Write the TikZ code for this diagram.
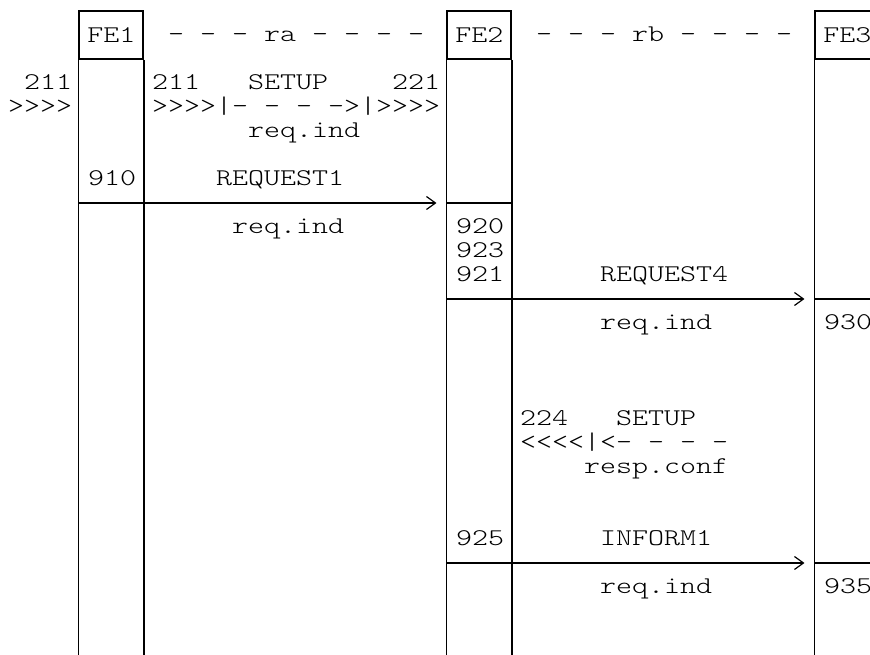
\documentclass[tikz,border=0pt]{standalone}
\usepackage{fontspec}
\setmonofont{lmmonolt10-regular.otf}[FakeStretch=1.27]
\usetikzlibrary{arrows.meta}

\begin{document}
\begin{tikzpicture}
	[x=16pt, y=-24pt, line width=1.6pt,
	 every node/.style={font=\fontsize{24}{24}\selectfont\ttfamily},
	 entity/.style={rectangle, draw, minimum width=64pt, minimum height=48pt, inner sep=0pt},
	 txt/.style={anchor=base west, inner sep=0pt, xshift=-8pt, yshift=-7pt},
	 msg/.style={-{Straight Barb[length=9pt, width=13pt, line width=1.2pt]}, shorten >=10pt}];
	\useasboundingbox (-0.956,-0.458) rectangle (53.42,26.83);
	% functional entities and their lifelines
	\node [entity] (fe1) at (6,1) {FE1};
	\node [entity] (fe2) at (29,1) {FE2};
	\node [entity] (fe3) at (52,1) {FE3};
	\coordinate (bottom) at (0,27.5);
	\foreach \e in {fe1,fe2,fe3} {
		\draw (\e.south west) -- (\e.south west |- bottom);
		\draw (\e.south east) -- (\e.south east |- bottom);
	}
	\node [txt] (ra) at (10,1) {-\ -\ -\ ra\ -\ -\ -\ -};
	\node [txt] (rb) at (33,1) {-\ -\ -\ rb\ -\ -\ -\ -};

	% incoming SETUP
	\node [txt] (in211) at (1,3) {211};
	\node [txt] (inarr) at (0,4) {>>>>};
	\node [txt] (su211) at (9,3) {211};
	\node [txt] (su1) at (15,3) {SETUP};
	\node [txt] (su221) at (24,3) {221};
	\node [txt] (su1arr) at (9,4) {>>>>|-\ -\ -\ ->|>>>>};
	\node [txt] (su1prim) at (15,5) {req.ind};

	% REQUEST1
	\coordinate (m1) at (0,8);
	\node [txt] (n910) at (5,7) {910};
	\node [txt] (rq1) at (13,7) {REQUEST1};
	\node [txt] (rq1prim) at (14,9) {req.ind};
	\draw (fe1.south west |- m1) -- (fe1.south east |- m1);
	\draw [msg] (fe1.south east |- m1) -- (fe2.south west |- m1);
	\draw (fe2.south west |- m1) -- (fe2.south east |- m1);

	% REQUEST4
	\coordinate (m2) at (0,12);
	\node [txt] (n920) at (28,9) {920};
	\node [txt] (n923) at (28,10) {923};
	\node [txt] (n921) at (28,11) {921};
	\node [txt] (rq4) at (37,11) {REQUEST4};
	\node [txt] (rq4prim) at (37,13) {req.ind};
	\node [txt] (n930) at (51,13) {930};
	\draw (fe2.south west |- m2) -- (fe2.south east |- m2);
	\draw [msg] (fe2.south east |- m2) -- (fe3.south west |- m2);
	\draw (fe3.south west |- m2) -- (fe3.south east |- m2);

	% SETUP response
	\node [txt] (su224) at (32,17) {224};
	\node [txt] (su2) at (38,17) {SETUP};
	\node [txt] (su2arr) at (32,18) {<<<<|<-\ -\ -\ -};
	\node [txt] (su2prim) at (36,19) {resp.conf};

	% INFORM1
	\coordinate (m3) at (0,23);
	\node [txt] (n925) at (28,22) {925};
	\node [txt] (inf) at (37,22) {INFORM1};
	\node [txt] (infprim) at (37,24) {req.ind};
	\node [txt] (n935) at (51,24) {935};
	\draw (fe2.south west |- m3) -- (fe2.south east |- m3);
	\draw [msg] (fe2.south east |- m3) -- (fe3.south west |- m3);
	\draw (fe3.south west |- m3) -- (fe3.south east |- m3);
\end{tikzpicture}
\end{document}
